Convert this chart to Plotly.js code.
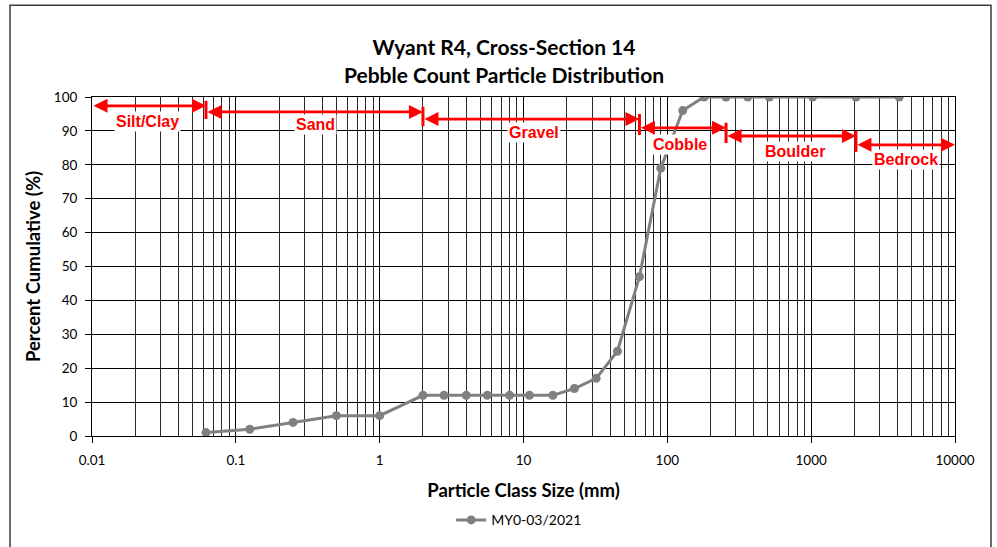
<!DOCTYPE html>
<html>
<head>
<meta charset="utf-8">
<script src="https://cdn.plot.ly/plotly-3.0.1.min.js"></script>
<style>html,body{margin:0;padding:0;background:#fff;}#chart{width:997px;height:547px;}</style>
</head>
<body>
<div id="chart"></div>
<script>
// Particle sizes (mm) and cumulative percent
const sizes = [0.062, 0.125, 0.25, 0.5, 1, 2, 2.8, 4, 5.6, 8, 11, 16, 22.6, 32, 45, 64, 90, 128, 180, 256, 362, 512, 1024, 2048, 4096];
const cumulative = [1, 2, 4, 6, 6, 12, 12, 12, 12, 12, 12, 12, 14, 17, 25, 47, 79, 96, 100, 100, 100, 100, 100, 100, 100];
const seriesName = 'MY0-03/2021';

// Size classes
const classNames = ['Silt/Clay', 'Sand', 'Gravel', 'Cobble', 'Boulder', 'Bedrock'];
const classBounds = [0.01, 0.062, 2, 64, 256, 2048, 10000];

// Layout placement of class arrows / labels
const arrowLevels = [97.4, 95.6, 93.5, 90.9, 88.5, 85.9];
const labelSizes = [0.0245, 0.36, 11.8, 122, 773, 4570];
const labelLevels = [92.9, 91.8, 89.4, 85.9, 83.8, 81.5];

const xTicks = [0.01, 0.1, 1, 10, 100, 1000, 10000];
const xTickText = ['0.01', '0.1', '1', '10', '100', '1000', '10000'];

const RED = '#ff0000';
const annotations = [];
const shapes = [];

classNames.forEach((name, i) => {
  annotations.push({
    x: Math.log10(classBounds[i + 1]), y: arrowLevels[i],
    ax: Math.log10(classBounds[i]), ay: arrowLevels[i],
    xref: 'x', yref: 'y', axref: 'x', ayref: 'y',
    text: '', showarrow: true, arrowhead: 2, arrowside: 'end+start',
    arrowsize: 1, arrowwidth: 2.8, arrowcolor: RED, standoff: 0, startstandoff: 0
  });
  annotations.push({
    x: Math.log10(labelSizes[i]), y: labelLevels[i], xref: 'x', yref: 'y',
    text: '<b>' + name + '</b>', showarrow: false, bgcolor: '#ffffff',
    font: {family: 'Liberation Sans, Arial, sans-serif', size: 16, color: RED},
    xanchor: 'center', yanchor: 'middle', borderpad: 1
  });
});

for (let i = 1; i < classBounds.length - 1; i++) {
  shapes.push({
    type: 'line', xref: 'x', yref: 'y',
    x0: classBounds[i], x1: classBounds[i],
    y0: arrowLevels[i - 1] + 1.5, y1: arrowLevels[i] - 2.1,
    line: {color: RED, width: 3}
  });
}

// outer chart border
shapes.push({
  type: 'rect', xref: 'paper', yref: 'paper',
  x0: -0.095, x1: 1.0417, y0: -0.33, y1: 1.2706,
  line: {color: '#3a3a3a', width: 1.5}, fillcolor: 'rgba(0,0,0,0)', layer: 'below'
});

const trace = {
  x: sizes, y: cumulative, type: 'scatter', mode: 'lines+markers', name: seriesName,
  line: {color: '#808080', width: 3},
  marker: {color: '#808080', size: 9}
};

const FONT = 'Lato, Calibri, sans-serif';

const layout = {
  width: 997, height: 547,
  margin: {l: 92, r: 42, t: 97, b: 110},
  paper_bgcolor: '#ffffff', plot_bgcolor: '#ffffff',
  font: {family: FONT, color: '#000'},
  title: {
    text: '<b>Wyant R4, Cross-Section 14<br>Pebble Count Particle Distribution</b>',
    font: {family: FONT, size: 21, color: '#000'},
    x: 0.5055, xref: 'container', xanchor: 'center',
    y: 0.899, yref: 'container', yanchor: 'middle'
  },
  xaxis: {
    type: 'log', range: [-2, 4],
    tickvals: xTicks, ticktext: xTickText,
    tickfont: {family: FONT, size: 13.5, color: '#000'},
    ticks: 'outside', ticklen: 6, tickcolor: '#000', ticklabelstandoff: 6,
    showgrid: true, gridcolor: '#000', gridwidth: 1,
    minor: {dtick: 'D1', showgrid: true, gridcolor: '#2a2a2a', gridwidth: 1, ticks: ''},
    showline: true, linecolor: '#000', linewidth: 1, mirror: true,
    zeroline: false,
    title: {text: '<b>Particle Class Size (mm)</b>', font: {family: FONT, size: 18.5, color: '#000'}, standoff: 16}
  },
  yaxis: {
    range: [0, 100], dtick: 10,
    tickfont: {family: FONT, size: 13.5, color: '#000'},
    ticks: 'outside', ticklen: 6, tickcolor: '#000', ticklabelstandoff: 5,
    showgrid: true, gridcolor: '#000', gridwidth: 1,
    showline: true, linecolor: '#000', linewidth: 1, mirror: true,
    zeroline: false,
    title: {text: '<b>Percent Cumulative (%)</b>', font: {family: FONT, size: 18.5, color: '#000'}, standoff: 8}
  },
  showlegend: true,
  legend: {
    orientation: 'h', x: 0.495, xanchor: 'center', y: -0.245, yanchor: 'middle',
    font: {family: FONT, size: 14, color: '#000'}, bgcolor: 'rgba(0,0,0,0)'
  },
  annotations: annotations,
  shapes: shapes
};

Plotly.newPlot('chart', [trace], layout, {displayModeBar: false, staticPlot: true});
</script>
</body>
</html>
